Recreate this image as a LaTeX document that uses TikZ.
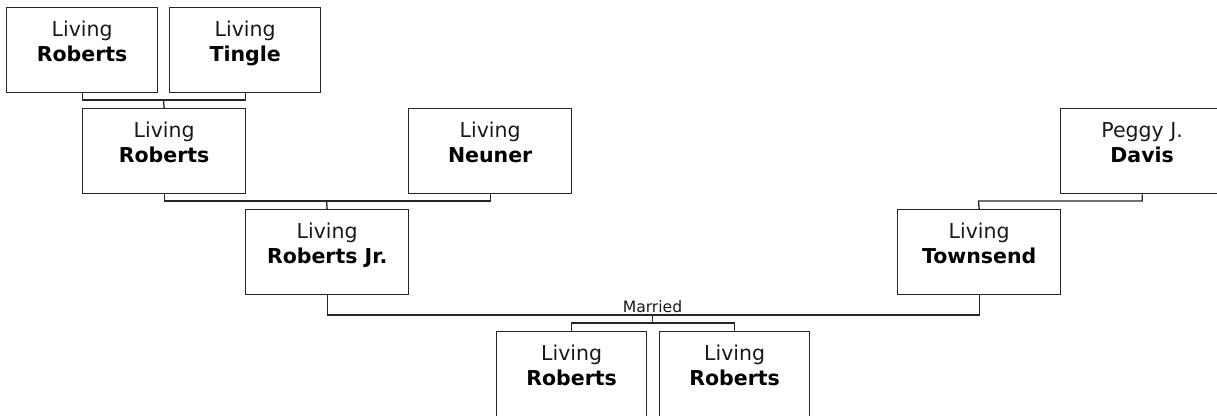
\documentclass[tikz,border=0pt]{standalone}
\usepackage{fontspec}
\setmainfont{DejaVu Sans}
\begin{document}
\begin{tikzpicture}[x=1pt,y=-1pt,
  pbox/.style={draw=black!85, line width=1.3pt, minimum height=85pt, inner sep=0pt, anchor=north west},
  conn/.style={draw=black!85, line width=1.3pt},
  regtext/.style={anchor=base, inner sep=0pt, text=black!90, font=\fontsize{20.5}{25}\selectfont},
  boldtext/.style={anchor=base, inner sep=0pt, text=black, font=\fontsize{20.5}{25}\selectfont\bfseries},
  smalltext/.style={anchor=base, inner sep=0pt, text=black!90, font=\fontsize{15.6}{18}\selectfont}]
\useasboundingbox (0,0) rectangle (1217,415);
\clip (0,0) rectangle (1217,415);
\newcommand{\personbox}[6]{%
  \node[pbox, minimum width=#4pt] (#1) at (#2,#3) {};
  \node[regtext] (#1-f) at ([yshift=-29pt]#1.north) {#5};
  \node[boldtext] (#1-l) at ([yshift=-54pt]#1.north) {#6};
}
\personbox{ra}{6}{7}{151}{Living}{Roberts}
\personbox{rb}{169}{7}{151}{Living}{Tingle}
\personbox{rc}{82}{108}{163}{Living}{Roberts}
\personbox{rd}{408}{108}{163}{Living}{Neuner}
\personbox{re}{1060}{108}{163}{Peggy J.}{Davis}
\personbox{rf}{245}{209}{163}{Living}{Roberts Jr.}
\personbox{rg}{897}{209}{163}{Living}{Townsend}
\personbox{rh}{496}{331}{150}{Living}{Roberts}
\personbox{ri}{659}{331}{150}{Living}{Roberts}
% connectors
\coordinate (j1) at (163.5,100);
\draw[conn] (ra.south) -- (ra.south |- j1) -- (rb.south |- j1) -- (rb.south);
\draw[conn] (j1) -- (rc.north);
\coordinate (j2) at (326.5,201);
\draw[conn] (rc.south) -- (rc.south |- j2) -- (rd.south |- j2) -- (rd.south);
\draw[conn] (j2) -- (rf.north);
\coordinate (j3) at (978.5,201);
\draw[conn] (re.south) -- (re.south |- j3) -- (j3) -- (rg.north);
\coordinate (j4) at (652.5,315);
\draw[conn] (rf.south) -- (rf.south |- j4) -- (rg.south |- j4) -- (rg.south);
\node[smalltext] (mar) at ([yshift=3pt]j4) {Married};
\coordinate (j5) at (652.5,323);
\draw[conn] (j4) -- (j5);
\draw[conn] (rh.north) -- (rh.north |- j5) -- (ri.north |- j5) -- (ri.north);
\end{tikzpicture}
\end{document}
